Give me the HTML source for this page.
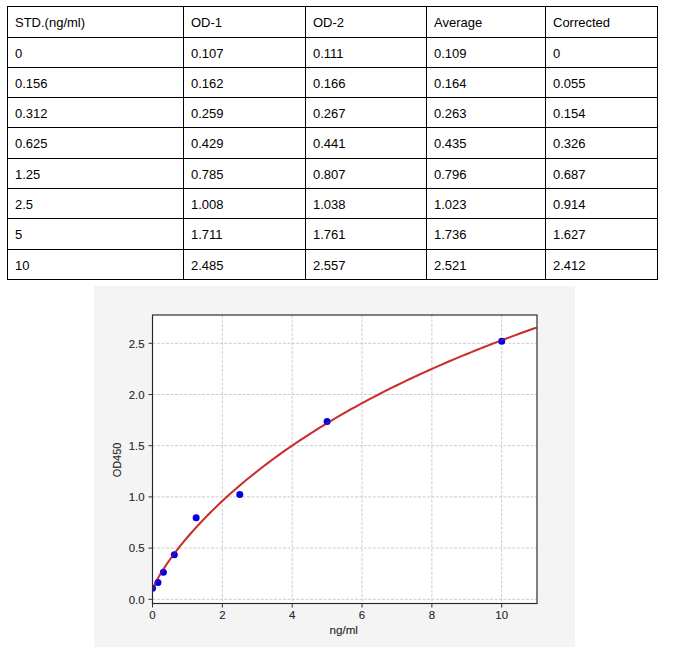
<!DOCTYPE html>
<html><head><meta charset="utf-8"><style>
html,body{margin:0;padding:0;background:#fff;width:676px;height:653px;overflow:hidden;position:relative}
.v{position:absolute;top:6px;width:1px;height:274px;background:#000}
.h{position:absolute;left:7px;width:651px;height:1px;background:#000}
.t{position:absolute;font-family:"Liberation Sans",sans-serif;font-size:13px;line-height:31px;color:#000;white-space:nowrap}
svg{position:absolute;left:0;top:0}
</style></head><body>
<div class="v" style="left:7px"></div>
<div class="v" style="left:183px"></div>
<div class="v" style="left:305px"></div>
<div class="v" style="left:426px"></div>
<div class="v" style="left:545px"></div>
<div class="v" style="left:657px"></div>
<div class="h" style="top:6px"></div>
<div class="h" style="top:37px"></div>
<div class="h" style="top:67px"></div>
<div class="h" style="top:97px"></div>
<div class="h" style="top:127px"></div>
<div class="h" style="top:158px"></div>
<div class="h" style="top:188px"></div>
<div class="h" style="top:218px"></div>
<div class="h" style="top:249px"></div>
<div class="h" style="top:279px"></div>
<div class="t" style="left:15px;top:7px">STD.(ng/ml)</div>
<div class="t" style="left:191px;top:7px">OD-1</div>
<div class="t" style="left:313px;top:7px">OD-2</div>
<div class="t" style="left:434px;top:7px">Average</div>
<div class="t" style="left:553px;top:7px">Corrected</div>
<div class="t" style="left:15px;top:38px">0</div>
<div class="t" style="left:191px;top:38px">0.107</div>
<div class="t" style="left:313px;top:38px">0.111</div>
<div class="t" style="left:434px;top:38px">0.109</div>
<div class="t" style="left:553px;top:38px">0</div>
<div class="t" style="left:15px;top:68px">0.156</div>
<div class="t" style="left:191px;top:68px">0.162</div>
<div class="t" style="left:313px;top:68px">0.166</div>
<div class="t" style="left:434px;top:68px">0.164</div>
<div class="t" style="left:553px;top:68px">0.055</div>
<div class="t" style="left:15px;top:98px">0.312</div>
<div class="t" style="left:191px;top:98px">0.259</div>
<div class="t" style="left:313px;top:98px">0.267</div>
<div class="t" style="left:434px;top:98px">0.263</div>
<div class="t" style="left:553px;top:98px">0.154</div>
<div class="t" style="left:15px;top:128px">0.625</div>
<div class="t" style="left:191px;top:128px">0.429</div>
<div class="t" style="left:313px;top:128px">0.441</div>
<div class="t" style="left:434px;top:128px">0.435</div>
<div class="t" style="left:553px;top:128px">0.326</div>
<div class="t" style="left:15px;top:159px">1.25</div>
<div class="t" style="left:191px;top:159px">0.785</div>
<div class="t" style="left:313px;top:159px">0.807</div>
<div class="t" style="left:434px;top:159px">0.796</div>
<div class="t" style="left:553px;top:159px">0.687</div>
<div class="t" style="left:15px;top:189px">2.5</div>
<div class="t" style="left:191px;top:189px">1.008</div>
<div class="t" style="left:313px;top:189px">1.038</div>
<div class="t" style="left:434px;top:189px">1.023</div>
<div class="t" style="left:553px;top:189px">0.914</div>
<div class="t" style="left:15px;top:219px">5</div>
<div class="t" style="left:191px;top:219px">1.711</div>
<div class="t" style="left:313px;top:219px">1.761</div>
<div class="t" style="left:434px;top:219px">1.736</div>
<div class="t" style="left:553px;top:219px">1.627</div>
<div class="t" style="left:15px;top:250px">10</div>
<div class="t" style="left:191px;top:250px">2.485</div>
<div class="t" style="left:313px;top:250px">2.557</div>
<div class="t" style="left:434px;top:250px">2.521</div>
<div class="t" style="left:553px;top:250px">2.412</div>
<svg width="676" height="653" viewBox="0 0 676 653">
<rect x="94" y="286" width="481" height="361" fill="#f4f4f4"/>
<rect x="152.5" y="315.0" width="384.5" height="288.5" fill="#fff"/>
<g stroke="#c0c0c0" stroke-width="0.8" stroke-dasharray="3,1.5" fill="none">
<line x1="152.50" y1="315.0" x2="152.50" y2="603.5"/>
<line x1="222.34" y1="315.0" x2="222.34" y2="603.5"/>
<line x1="292.18" y1="315.0" x2="292.18" y2="603.5"/>
<line x1="362.02" y1="315.0" x2="362.02" y2="603.5"/>
<line x1="431.86" y1="315.0" x2="431.86" y2="603.5"/>
<line x1="501.70" y1="315.0" x2="501.70" y2="603.5"/>
<line x1="152.5" y1="599.30" x2="537.0" y2="599.30"/>
<line x1="152.5" y1="548.10" x2="537.0" y2="548.10"/>
<line x1="152.5" y1="496.90" x2="537.0" y2="496.90"/>
<line x1="152.5" y1="445.70" x2="537.0" y2="445.70"/>
<line x1="152.5" y1="394.50" x2="537.0" y2="394.50"/>
<line x1="152.5" y1="343.30" x2="537.0" y2="343.30"/>
</g>
<defs><clipPath id="c"><rect x="152.5" y="315.0" width="384.5" height="288.5"/></clipPath></defs>
<g clip-path="url(#c)">
<polyline points="152.50,589.94 155.99,581.84 159.48,575.54 162.98,569.85 166.47,564.54 169.96,559.52 173.45,554.73 176.94,550.13 180.44,545.70 183.93,541.42 187.42,537.26 190.91,533.23 194.40,529.30 197.90,525.48 201.39,521.74 204.88,518.09 208.37,514.53 211.86,511.04 215.36,507.62 218.85,504.27 222.34,500.99 225.83,497.77 229.32,494.61 232.82,491.50 236.31,488.45 239.80,485.45 243.29,482.50 246.78,479.60 250.28,476.75 253.77,473.94 257.26,471.17 260.75,468.45 264.24,465.76 267.74,463.12 271.23,460.51 274.72,457.94 278.21,455.41 281.70,452.91 285.20,450.44 288.69,448.01 292.18,445.61 295.67,443.24 299.16,440.90 302.66,438.58 306.15,436.30 309.64,434.05 313.13,431.82 316.62,429.62 320.12,427.45 323.61,425.30 327.10,423.18 330.59,421.08 334.08,419.01 337.58,416.96 341.07,414.93 344.56,412.92 348.05,410.94 351.54,408.98 355.04,407.03 358.53,405.11 362.02,403.21 365.51,401.33 369.00,399.47 372.50,397.63 375.99,395.80 379.48,394.00 382.97,392.21 386.46,390.44 389.96,388.69 393.45,386.95 396.94,385.24 400.43,383.53 403.92,381.85 407.42,380.18 410.91,378.52 414.40,376.89 417.89,375.26 421.38,373.65 424.88,372.06 428.37,370.48 431.86,368.91 435.35,367.36 438.84,365.82 442.34,364.30 445.83,362.79 449.32,361.29 452.81,359.80 456.30,358.33 459.80,356.87 463.29,355.42 466.78,353.99 470.27,352.56 473.76,351.15 477.26,349.75 480.75,348.36 484.24,346.99 487.73,345.62 491.22,344.26 494.72,342.92 498.21,341.59 501.70,340.26 505.19,338.95 508.68,337.65 512.18,336.35 515.67,335.07 519.16,333.80 522.65,332.53 526.14,331.28 529.64,330.04 533.13,328.80 536.62,327.58" fill="none" stroke="#c92828" stroke-width="2" stroke-opacity="0.95"/>
<g fill="#0000e6">
<circle cx="152.50" cy="588.14" r="3.5"/>
<circle cx="157.95" cy="582.51" r="3.5"/>
<circle cx="163.40" cy="572.37" r="3.5"/>
<circle cx="174.32" cy="554.76" r="3.5"/>
<circle cx="196.15" cy="517.79" r="3.5"/>
<circle cx="239.80" cy="494.54" r="3.5"/>
<circle cx="327.10" cy="421.53" r="3.5"/>
<circle cx="501.70" cy="341.15" r="3.5"/>
</g>
<polyline points="152.50,589.94 155.99,581.84 159.48,575.54 162.98,569.85 166.47,564.54 169.96,559.52 173.45,554.73 176.94,550.13 180.44,545.70 183.93,541.42 187.42,537.26 190.91,533.23 194.40,529.30 197.90,525.48 201.39,521.74 204.88,518.09 208.37,514.53 211.86,511.04 215.36,507.62 218.85,504.27 222.34,500.99 225.83,497.77 229.32,494.61 232.82,491.50 236.31,488.45 239.80,485.45 243.29,482.50 246.78,479.60 250.28,476.75 253.77,473.94 257.26,471.17 260.75,468.45 264.24,465.76 267.74,463.12 271.23,460.51 274.72,457.94 278.21,455.41 281.70,452.91 285.20,450.44 288.69,448.01 292.18,445.61 295.67,443.24 299.16,440.90 302.66,438.58 306.15,436.30 309.64,434.05 313.13,431.82 316.62,429.62 320.12,427.45 323.61,425.30 327.10,423.18 330.59,421.08 334.08,419.01 337.58,416.96 341.07,414.93 344.56,412.92 348.05,410.94 351.54,408.98 355.04,407.03 358.53,405.11 362.02,403.21 365.51,401.33 369.00,399.47 372.50,397.63 375.99,395.80 379.48,394.00 382.97,392.21 386.46,390.44 389.96,388.69 393.45,386.95 396.94,385.24 400.43,383.53 403.92,381.85 407.42,380.18 410.91,378.52 414.40,376.89 417.89,375.26 421.38,373.65 424.88,372.06 428.37,370.48 431.86,368.91 435.35,367.36 438.84,365.82 442.34,364.30 445.83,362.79 449.32,361.29 452.81,359.80 456.30,358.33 459.80,356.87 463.29,355.42 466.78,353.99 470.27,352.56 473.76,351.15 477.26,349.75 480.75,348.36 484.24,346.99 487.73,345.62 491.22,344.26 494.72,342.92 498.21,341.59 501.70,340.26 505.19,338.95 508.68,337.65 512.18,336.35 515.67,335.07 519.16,333.80 522.65,332.53 526.14,331.28 529.64,330.04 533.13,328.80 536.62,327.58" fill="none" stroke="#c92828" stroke-width="1.6" stroke-opacity="0.4"/>
</g>
<rect x="152.5" y="315.0" width="384.5" height="288.5" fill="none" stroke="#262626" stroke-width="1.15"/>
<g stroke="#333" stroke-width="1">
<line x1="152.50" y1="603.5" x2="152.50" y2="607.5"/>
<line x1="222.34" y1="603.5" x2="222.34" y2="607.5"/>
<line x1="292.18" y1="603.5" x2="292.18" y2="607.5"/>
<line x1="362.02" y1="603.5" x2="362.02" y2="607.5"/>
<line x1="431.86" y1="603.5" x2="431.86" y2="607.5"/>
<line x1="501.70" y1="603.5" x2="501.70" y2="607.5"/>
<line x1="148.5" y1="599.30" x2="152.5" y2="599.30"/>
<line x1="148.5" y1="548.10" x2="152.5" y2="548.10"/>
<line x1="148.5" y1="496.90" x2="152.5" y2="496.90"/>
<line x1="148.5" y1="445.70" x2="152.5" y2="445.70"/>
<line x1="148.5" y1="394.50" x2="152.5" y2="394.50"/>
<line x1="148.5" y1="343.30" x2="152.5" y2="343.30"/>
</g>
<g font-family="Liberation Sans, sans-serif" font-size="10" fill="#262626" stroke="#262626" stroke-width="0.1" text-anchor="middle">
<text transform="translate(152.50,619.3) scale(1.144,1)">0</text>
<text transform="translate(222.34,619.3) scale(1.144,1)">2</text>
<text transform="translate(292.18,619.3) scale(1.144,1)">4</text>
<text transform="translate(362.02,619.3) scale(1.144,1)">6</text>
<text transform="translate(431.86,619.3) scale(1.144,1)">8</text>
<text transform="translate(501.70,619.3) scale(1.144,1)">10</text>
</g>
<g font-family="Liberation Sans, sans-serif" font-size="10" fill="#262626" stroke="#262626" stroke-width="0.1" text-anchor="end">
<text transform="translate(144.6,603.60) scale(1.144,1)">0.0</text>
<text transform="translate(144.6,552.40) scale(1.144,1)">0.5</text>
<text transform="translate(144.6,501.20) scale(1.144,1)">1.0</text>
<text transform="translate(144.6,450.00) scale(1.144,1)">1.5</text>
<text transform="translate(144.6,398.80) scale(1.144,1)">2.0</text>
<text transform="translate(144.6,347.60) scale(1.144,1)">2.5</text>
</g>
<text transform="translate(343.7,634.3) scale(1.169,1)" font-family="Liberation Sans, sans-serif" font-size="10" fill="#262626" stroke="#262626" stroke-width="0.1" text-anchor="middle">ng/ml</text>
<text transform="translate(121.1,460) rotate(-90) scale(1.094,1)" font-family="Liberation Sans, sans-serif" font-size="10" fill="#262626" stroke="#262626" stroke-width="0.1" text-anchor="middle">OD450</text>
</svg>
</body></html>
